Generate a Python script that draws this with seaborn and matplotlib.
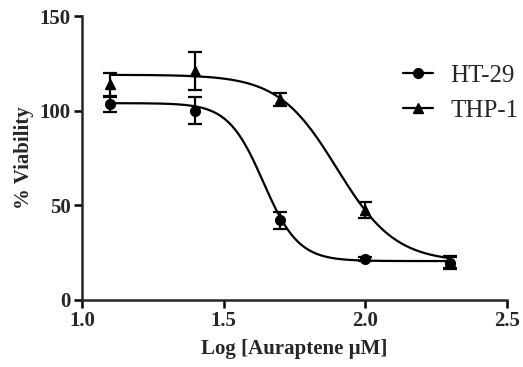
import numpy as np
import pandas as pd
import matplotlib
matplotlib.use('Agg')
import matplotlib.pyplot as plt
import seaborn as sns
from matplotlib.lines import Line2D

# Measured points (log concentration, mean % viability, SEM)
log_conc = [1.1, 1.4, 1.7, 2.0, 2.3]
ht29_mean = [103.5, 100.0, 42.0, 21.5, 19.5]
ht29_err = [4.0, 7.0, 4.5, 1.0, 3.0]
thp1_mean = [114.0, 121.0, 106.0, 47.5, 20.0]
thp1_err = [6.0, 10.0, 3.5, 4.0, 3.0]

# 4-parameter logistic fit parameters: top, bottom, logEC50, hill slope
ht29_fit = (104.0, 20.5, 1.64, 7.0)
thp1_fit = (119.0, 20.0, 1.90, 4.2)


def four_pl(x, top, bottom, logec50, hill):
    return bottom + (top - bottom) / (1 + 10 ** ((x - logec50) * hill))


sns.set_style('ticks')
plt.rcParams['font.family'] = ['Liberation Serif', 'DejaVu Serif']

fig = plt.figure(figsize=(5.23, 3.67), dpi=100)
ax = fig.add_axes([0.157, 0.183, 0.812, 0.773])

xs = np.linspace(1.1, 2.3, 200)
curves = pd.DataFrame({
    'x': np.concatenate([xs, xs]),
    'y': np.concatenate([four_pl(xs, *ht29_fit), four_pl(xs, *thp1_fit)]),
    'line': ['HT-29'] * len(xs) + ['THP-1'] * len(xs),
})
sns.lineplot(data=curves, x='x', y='y', hue='line', palette=['black', 'black'],
             linewidth=1.6, legend=False, ax=ax)

for mean, err, marker in [(ht29_mean, ht29_err, 'o'), (thp1_mean, thp1_err, '^')]:
    ax.errorbar(log_conc, mean, yerr=err, fmt=marker, color='black', markersize=7,
                ecolor='black', elinewidth=1.6, capsize=5, capthick=1.6)

ax.set_xlim(1.0, 2.5)
ax.set_ylim(0, 150)
ax.set_xticks([1.0, 1.5, 2.0, 2.5])
ax.set_xticklabels(['1.0', '1.5', '2.0', '2.5'])
ax.set_yticks([0, 50, 100, 150])
ax.set_xlabel('Log [Auraptene µM]', fontsize=15, fontweight='bold', labelpad=6)
ax.set_ylabel('% Viability', fontsize=15, fontweight='bold', labelpad=4)
ax.tick_params(labelsize=15, width=1.8, length=6, color='black', pad=2)
for lab in ax.get_xticklabels() + ax.get_yticklabels():
    lab.set_fontweight('bold')
for side in ['left', 'bottom']:
    ax.spines[side].set_linewidth(1.8)
sns.despine(ax=ax)

handles = [
    Line2D([0], [0], color='black', marker='o', markersize=7, linewidth=1.6),
    Line2D([0], [0], color='black', marker='^', markersize=7, linewidth=1.6),
]
ax.legend(handles, ['HT-29', 'THP-1'], loc='upper right', bbox_to_anchor=(1.08, 0.91),
          frameon=False, fontsize=18, handlelength=1.2, handletextpad=0.7,
          labelspacing=0.5)

fig.savefig('out.png', dpi=100)
